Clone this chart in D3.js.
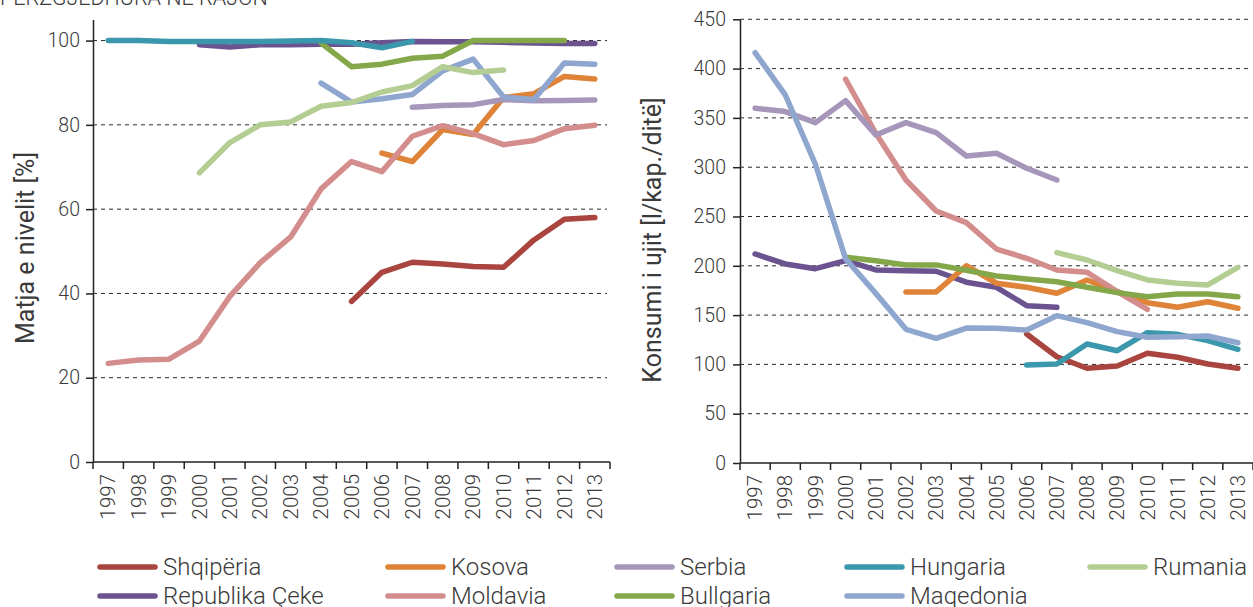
<!DOCTYPE html>
<html>
<head>
<meta charset="utf-8">
<script src="https://cdn.jsdelivr.net/npm/d3@7"></script>
<style>
  body { margin: 0; background: #fff; }
  svg { display: block; }
  text { font-family: Roboto, "Liberation Sans", sans-serif; font-weight: 300; fill: #3a3a3a; }
</style>
</head>
<body>
<svg id="chart" width="1253" height="607"></svg>
<script>
// Years on the horizontal axis
const years = d3.range(1997, 2014).map(String);

// Countries in drawing order, with their line colours
const countries = ["Shqipëria", "Republika Çeke", "Kosova", "Moldavia", "Serbia",
                   "Bullgaria", "Hungaria", "Maqedonia", "Rumania"];
const colors = ["#a9443e", "#6b5390", "#de8337", "#d38d8c", "#a696ba",
                "#84a74a", "#3b97ab", "#8fa6cf", "#b4cd93"];

// Metering level [%], 1997–2013 (null = no data)
const shqiperiaCov = [null, null, null, null, null, null, null, null, 38.1, 45.0, 47.4, 47.0, 46.4, 46.2, 52.7, 57.6, 58.0];
const cekeCov      = [null, null, null, 99.0, 98.5, 99.0, 99.0, 99.1, 99.1, 99.5, 99.8, 99.7, 99.7, 99.6, 99.4, 99.3, 99.3];
const kosovaCov    = [null, null, null, null, null, null, null, null, null, 73.3, 71.3, 78.9, 77.7, 86.5, 87.4, 91.5, 90.9];
const moldaviaCov  = [23.4, 24.2, 24.4, 28.7, 39.3, 47.3, 53.4, 64.8, 71.3, 68.9, 77.3, 79.8, 77.9, 75.3, 76.3, 79.1, 79.9];
const serbiaCov    = [null, null, null, null, null, null, null, null, null, null, 84.2, 84.6, 84.8, 86.0, 85.7, 85.8, 85.9];
const bullgariaCov = [null, null, null, null, null, null, null, 99.4, 93.8, 94.4, 95.8, 96.3, 100, 100, 100, 100, null];
const hungariaCov  = [100, 100, 99.8, 99.8, 99.8, 99.8, 99.9, 100, 99.5, 98.3, 99.8, null, null, null, null, null, null];
const maqedoniaCov = [null, null, null, null, null, null, null, 89.9, 85.4, 86.2, 87.2, 92.8, 95.6, 86.6, 86.0, 94.7, 94.4];
const rumaniaCov   = [null, null, null, 68.6, 75.8, 80.0, 80.7, 84.4, 85.3, 87.8, 89.3, 93.8, 92.4, 93.0, null, null, null];

// Water consumption [l/cap./day], 1997–2013 (null = no data)
const shqiperiaUse = [null, null, null, null, null, null, null, null, null, 130.9, 107.8, 96.1, 98.4, 111.3, 107.2, 100.4, 96.1];
const cekeUse      = [212, 201.9, 197.1, 205.2, 195.8, 195.1, 194.5, 183.4, 178.2, 159.6, 157.9, null, null, null, null, null, null];
const kosovaUse    = [null, null, null, null, null, 173.5, 173.5, 200.1, 182.3, 178.2, 172.1, 185.6, 173.8, 162.6, 157.9, 163.6, 156.9];
const moldaviaUse  = [null, null, null, 389.2, 334.4, 287, 255.6, 243.8, 217, 207.6, 195.8, 193.4, 173.8, 155.9, null, null, null];
const serbiaUse    = [359.8, 356.4, 345.2, 367.5, 332.7, 345.2, 335.1, 311.4, 314.1, 298.9, 287, null, null, null, null, null, null];
const bullgariaUse = [null, null, null, 208.7, 205.2, 200.9, 200.9, 195.5, 189.7, 186.6, 183.9, 178.2, 172.8, 168.7, 171.4, 171.4, 168.7];
const hungariaUse  = [null, null, null, null, null, null, null, null, null, 99.4, 100.4, 120.7, 113.9, 132.2, 130.5, 124.1, 115.3];
const maqedoniaUse = [416.2, 373.3, 303, 207, 172, 135.6, 126.5, 136.8, 136.6, 134.9, 149.4, 142.3, 133.2, 127.5, 128.1, 128.8, 122];
const rumaniaUse   = [null, null, null, null, null, null, null, null, null, null, 213.3, 205.9, 195.1, 185.6, 182.3, 180.6, 198.5];

// Tick values
const covTicks = [0, 20, 40, 60, 80, 100];
const useTicks = [0, 50, 100, 150, 200, 250, 300, 350, 400, 450];

const coverageSeries = [shqiperiaCov, cekeCov, kosovaCov, moldaviaCov, serbiaCov,
                        bullgariaCov, hungariaCov, maqedoniaCov, rumaniaCov];
const consumptionSeries = [shqiperiaUse, cekeUse, kosovaUse, moldaviaUse, serbiaUse,
                           bullgariaUse, hungariaUse, maqedoniaUse, rumaniaUse];

const svg = d3.select("#chart");

// Heading line at the very top
svg.append("text")
  .attr("x", 0).attr("y", 4.5)
  .style("font-size", "21.5px")
  .text("PËRZGJEDHURA NË RAJON");

function panel(cfg) {
  const g = svg.append("g");
  const x = d3.scaleBand().domain(years).range([cfg.left, cfg.right]).padding(0);
  const y = d3.scaleLinear().domain([0, cfg.max]).range([cfg.bottom, cfg.top]);
  const bw = x.bandwidth();

  // dashed gridlines
  g.append("g").selectAll("line")
    .data(cfg.ticks.filter(t => t > 0))
    .join("line")
    .attr("x1", cfg.left).attr("x2", cfg.right - 3)
    .attr("y1", d => y(d)).attr("y2", d => y(d))
    .attr("stroke", "#2a2a2a").attr("stroke-width", 1)
    .attr("stroke-dasharray", "4,4");

  // series lines
  const line = d3.line()
    .defined(d => d != null)
    .x((d, i) => x(years[i]) + bw / 2)
    .y(d => y(d));
  g.append("g").selectAll("path")
    .data(cfg.series)
    .join("path")
    .attr("d", d => line(d))
    .attr("fill", "none")
    .attr("stroke", (d, i) => colors[i])
    .attr("stroke-width", 5.5)
    .attr("stroke-linecap", "round")
    .attr("stroke-linejoin", "round");

  // y axis
  const yAxis = g.append("g")
    .attr("transform", `translate(${cfg.left},0)`)
    .call(d3.axisLeft(y).tickValues(cfg.ticks).tickSize(7).tickPadding(cfg.pad).tickSizeOuter(0));
  yAxis.select(".domain").attr("stroke", "#222").attr("stroke-width", 1.5);
  yAxis.selectAll(".tick line").attr("stroke", "#222").attr("stroke-width", 1.5);
  yAxis.selectAll(".tick text")
    .style("font-size", "19.5px").style("font-family", "Roboto, sans-serif")
    .style("font-weight", 300).attr("fill", "#3a3a3a");

  // x axis: baseline, boundary ticks, rotated year labels
  const xa = g.append("g");
  xa.append("line")
    .attr("x1", cfg.left).attr("x2", cfg.right)
    .attr("y1", cfg.bottom).attr("y2", cfg.bottom)
    .attr("stroke", "#222").attr("stroke-width", 1.5);
  xa.selectAll("line.tk")
    .data(d3.range(years.length + 1))
    .join("line").attr("class", "tk")
    .attr("x1", i => cfg.left + i * x.step()).attr("x2", i => cfg.left + i * x.step())
    .attr("y1", cfg.bottom).attr("y2", cfg.bottom + 7)
    .attr("stroke", "#222").attr("stroke-width", 1.5);
  xa.selectAll("text")
    .data(years)
    .join("text")
    .attr("transform", d => `translate(${x(d) + bw / 2},${cfg.bottom + 12}) rotate(-90)`)
    .attr("text-anchor", "end")
    .attr("dy", "0.35em")
    .style("font-size", "20.5px")
    .text(d => d);

  // axis title
  g.append("text")
    .attr("transform", `translate(${cfg.titleX},${cfg.titleY}) rotate(-90)`)
    .attr("text-anchor", "middle")
    .attr("dy", "0.35em")
    .style("font-size", "25px")
    .style("font-weight", 400)
    .attr("fill", "#111")
    .text(cfg.title);
}

panel({
  left: 93, right: 610, top: 19.5, bottom: 462, max: 105,
  ticks: covTicks, series: coverageSeries, pad: 6,
  title: "Matja e nivelit [%]", titleX: 25, titleY: 248
});

panel({
  left: 740, right: 1253, top: 19.3, bottom: 463, max: 450,
  ticks: useTicks, series: consumptionSeries, pad: 7,
  title: "Konsumi i ujit [l/kap./ditë]", titleX: 652, titleY: 240
});

// Legend: two rows, filled column by column
const legendCols = [100, 388, 617, 847, 1090];
const legendRows = [567, 596];
const leg = svg.append("g").selectAll("g")
  .data(countries)
  .join("g")
  .attr("transform", (d, i) => `translate(${legendCols[Math.floor(i / 2)]},${legendRows[i % 2]})`);
leg.append("line")
  .attr("x1", 0).attr("x2", 55).attr("y1", 0).attr("y2", 0)
  .attr("stroke", (d, i) => colors[i])
  .attr("stroke-width", 5.5).attr("stroke-linecap", "round");
leg.append("text")
  .attr("x", 63).attr("dy", "0.35em")
  .style("font-size", "24px")
  .text(d => d);
</script>
</body>
</html>
